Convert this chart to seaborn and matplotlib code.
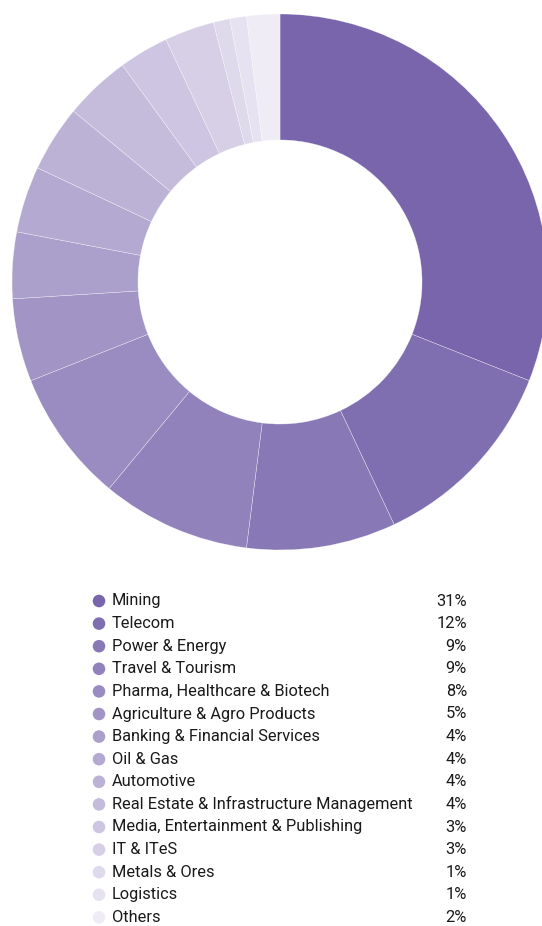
import matplotlib
matplotlib.use("Agg")
import matplotlib.pyplot as plt
from matplotlib import font_manager
import seaborn as sns
import pandas as pd

categories = ["Mining", "Telecom", "Power & Energy", "Travel & Tourism",
              "Pharma, Healthcare & Biotech", "Agriculture & Agro Products",
              "Banking & Financial Services", "Oil & Gas", "Automotive",
              "Real Estate & Infrastructure Management",
              "Media, Entertainment & Publishing", "IT & ITeS",
              "Metals & Ores", "Logistics", "Others"]
shares = [31, 12, 9, 9, 8, 5, 4, 4, 4, 4, 3, 3, 1, 1, 2]
labels = [f"{v}%" for v in shares]

sns.set_theme(style="white")
names = {f.name for f in font_manager.fontManager.ttflist}
fam = "Liberation Sans Narrow" if "Liberation Sans Narrow" in names else "Roboto"
plt.rcParams["font.family"] = [fam, "DejaVu Sans"]

colors = sns.blend_palette(["#7865ab", "#efecf6"], len(shares))

W, H = 542, 926
fig = plt.figure(figsize=(W / 100, H / 100), dpi=100)

cx, cy, r = 280, 282, 268
ax = fig.add_axes([(cx - r) / W, (H - cy - r) / H, 2 * r / W, 2 * r / H])
ax.pie(shares, colors=colors, startangle=90, counterclock=False, radius=1,
       wedgeprops=dict(width=0.47, edgecolor=(1, 1, 1, 0.6), linewidth=0.35))
ax.set_xlim(-1, 1)
ax.set_ylim(-1, 1)
ax.set_aspect("equal")
ax.axis("off")

# cut-off title glyph at top-left (title lies above the visible area)
fig.text(22 / W, 1 + 9 / H, "y", fontsize=18, fontweight="bold", color="black",
         va="baseline", ha="left")

# legend
lax = fig.add_axes([0, 0, 1, 1])
y0, dy = 601, 22.6
df = pd.DataFrame({"cat": categories, "x": [99] * len(shares),
                   "y": [y0 + i * dy for i in range(len(shares))]})
sns.scatterplot(data=df, x="x", y="y", hue="cat", palette=colors, s=82,
                edgecolor="none", legend=False, ax=lax)
for i, (c, lab) in enumerate(zip(categories, labels)):
    yy = y0 + i * dy
    lax.text(112, yy, c, fontsize=11.8, va="center", ha="left", color="#1a1a1a")
    lax.text(467, yy, lab, fontsize=11.8, va="center", ha="right", color="#1a1a1a")
lax.set_xlim(0, W)
lax.set_ylim(H, 0)
lax.axis("off")

fig.savefig("out.png", dpi=100)
